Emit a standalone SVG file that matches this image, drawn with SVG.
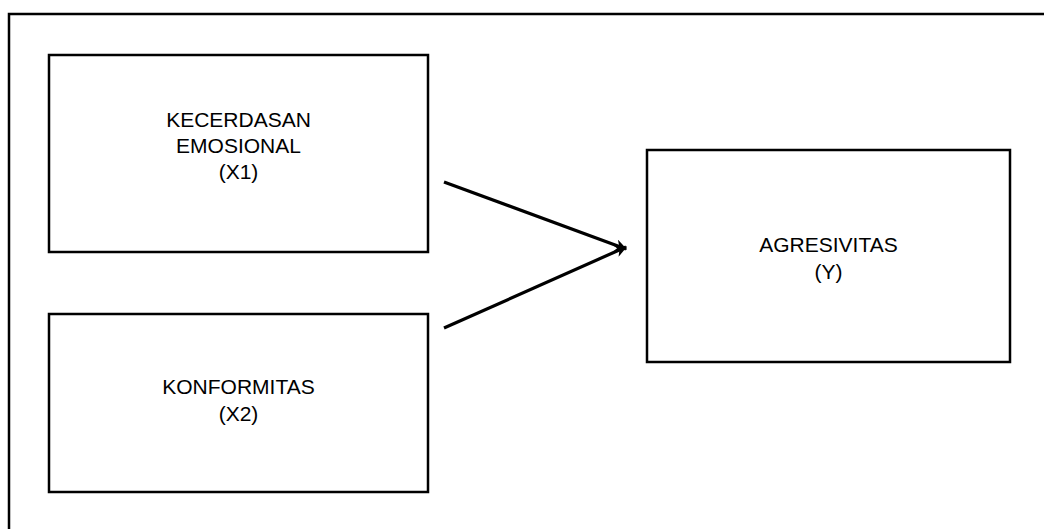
<svg xmlns="http://www.w3.org/2000/svg" width="1044" height="529" viewBox="0 0 1044 529">
<style>
.box{fill:#fff;stroke:#000;stroke-width:2.5}
.lbl{font-family:"Liberation Sans","Open Sans",sans-serif;font-size:21px;fill:#000;text-anchor:middle}
.conn{stroke:#000;stroke-width:3.2;fill:none}
</style>
<defs>
<marker id="ah" markerWidth="12" markerHeight="12" refX="9" refY="5" orient="auto" markerUnits="userSpaceOnUse" viewBox="0 0 10 10">
<path d="M0,0 L10,5 L0,10 L3,5 z" fill="#000"/>
</marker>
</defs>
<rect x="9" y="14" width="1100" height="600" fill="none" stroke="#000" stroke-width="2.5"/>
<g id="x1">
<rect class="box" x="49" y="55" width="379" height="197"/>
<text class="lbl" x="238.5" y="127">KECERDASAN</text>
<text class="lbl" x="238.5" y="153">EMOSIONAL</text>
<text class="lbl" x="238.5" y="179">(X1)</text>
</g>
<g id="x2">
<rect class="box" x="49" y="314" width="379" height="178"/>
<text class="lbl" x="238.5" y="394">KONFORMITAS</text>
<text class="lbl" x="238.5" y="421">(X2)</text>
</g>
<g id="y">
<rect class="box" x="647" y="150" width="363" height="212"/>
<text class="lbl" x="828.5" y="252">AGRESIVITAS</text>
<text class="lbl" x="828.5" y="279">(Y)</text>
</g>
<g id="connectors">
<line class="conn" x1="444" y1="182" x2="626" y2="249" marker-end="url(#ah)"/>
<line class="conn" x1="444" y1="328" x2="626" y2="247" marker-end="url(#ah)"/>
</g>
</svg>
